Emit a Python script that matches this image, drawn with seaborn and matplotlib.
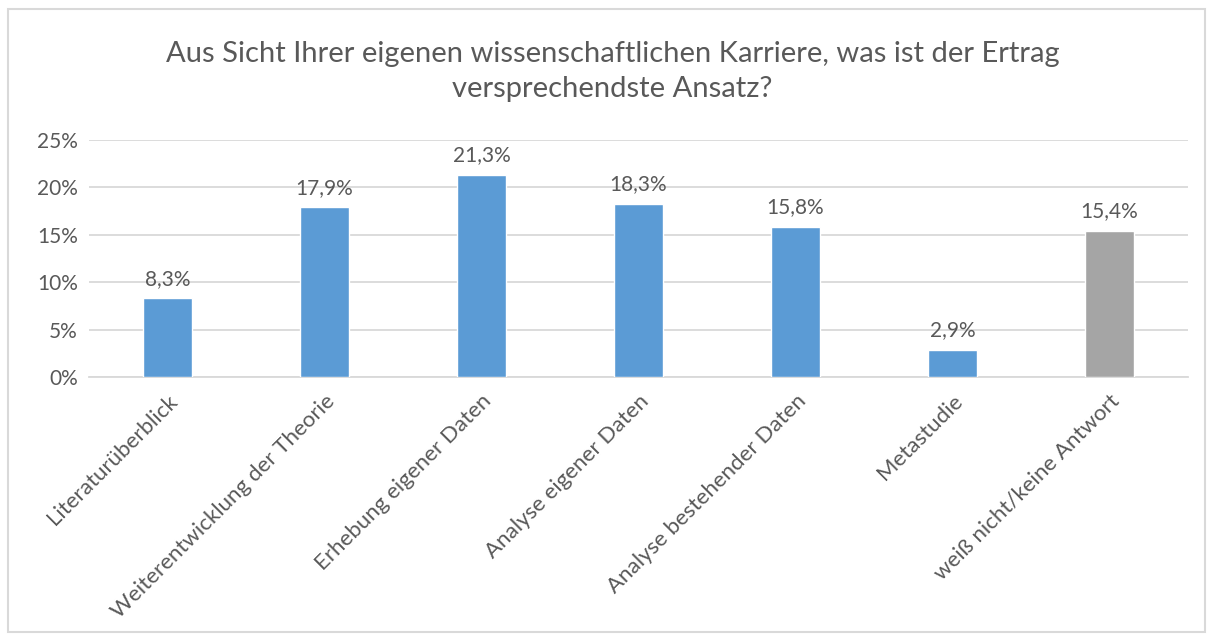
import matplotlib
matplotlib.use("Agg")
import matplotlib.pyplot as plt
import seaborn as sns
import pandas as pd
from matplotlib.patches import Rectangle
from matplotlib.ticker import FuncFormatter

categories = ["Literaturüberblick", "Weiterentwicklung der Theorie", "Erhebung eigener Daten",
              "Analyse eigener Daten", "Analyse bestehender Daten", "Metastudie",
              "weiß nicht/keine Antwort"]
values = [0.083, 0.179, 0.213, 0.183, 0.158, 0.029, 0.154]
bar_colors = ["#5B9BD5"] * 6 + ["#A5A5A5"]
yticks = [0, 0.05, 0.10, 0.15, 0.20, 0.25]
title = "Aus Sicht Ihrer eigenen wissenschaftlichen Karriere, was ist der Ertrag\nversprechendste Ansatz?"

sns.set_theme(style="white")
plt.rcParams['font.family'] = ['Lato', 'DejaVu Sans']
txt = "#595959"

df = pd.DataFrame({"cat": categories, "val": values})
fig = plt.figure(figsize=(12.13, 6.38), dpi=100)
ax = fig.add_axes([0.0734, 0.409, 0.906, 0.3715])
sns.barplot(data=df, x="cat", y="val", hue="cat", palette=bar_colors, legend=False,
            width=0.31, saturation=1, ax=ax, zorder=3)
ax.set_ylim(0, 0.25)
ax.set_xlim(-0.5, len(categories) - 0.5)
ax.set_yticks(yticks)
ax.yaxis.set_major_formatter(FuncFormatter(lambda v, p: f"{v*100:.0f}%"))
ax.grid(axis="y", color="#D9D9D9", linewidth=1.3, zorder=0)
ax.grid(axis="x", visible=False)
for s in ["top", "right", "left"]:
    ax.spines[s].set_visible(False)
ax.spines["bottom"].set_color("#D9D9D9")
ax.spines["bottom"].set_linewidth(1.3)
ax.set_xlabel("")
ax.set_ylabel("")
ax.tick_params(axis="y", length=0, labelsize=15, colors=txt, pad=8)
ax.set_xticks(range(len(categories)))
ax.set_xticklabels(categories, rotation=45, ha="right", rotation_mode="anchor")
ax.tick_params(axis="x", length=0, labelsize=16, colors=txt, pad=10)

for i, v in enumerate(values):
    ax.annotate(f"{v*100:.1f}%".replace(".", ","), (i, v), xytext=(0, 7),
                textcoords="offset points", ha="center", va="bottom",
                fontsize=15, color=txt)

fig.text(0.505, 0.888, title, ha="center", va="center", fontsize=21, color=txt,
         linespacing=1.4)

fig.patches.append(Rectangle((8/1213, 1 - 632/638), 1197/1213, 623/638,
                             transform=fig.transFigure, fill=False,
                             edgecolor="#D9D9D9", linewidth=1.5))
fig.savefig("out.png", dpi=100, facecolor="white")
